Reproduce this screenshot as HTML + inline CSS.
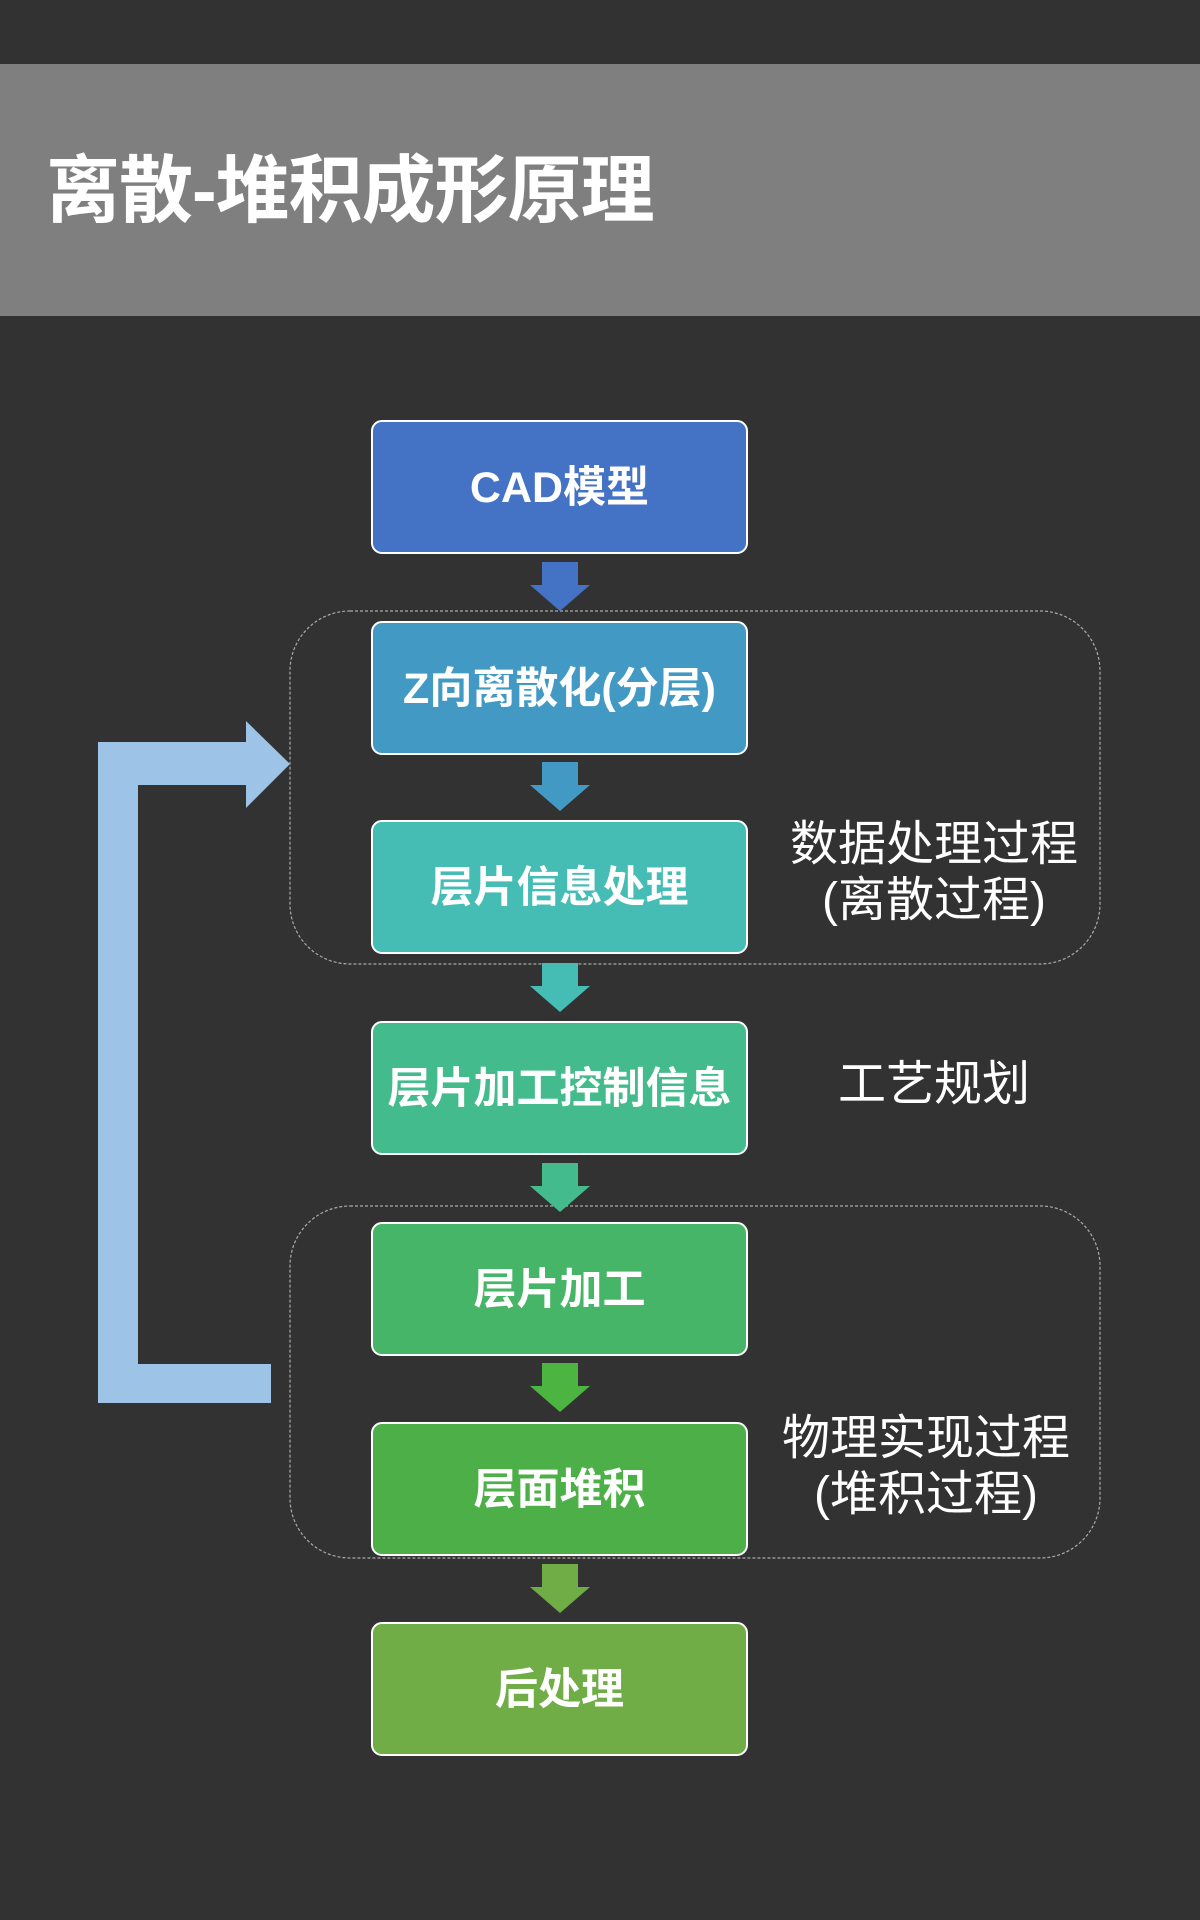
<!DOCTYPE html>
<html><head><meta charset="utf-8"><style>
body{margin:0;width:1200px;height:1920px;background:#323232;position:relative;overflow:hidden;font-family:"Liberation Sans","Noto Sans CJK SC",sans-serif}
.band{position:absolute;left:0;top:64px;width:1200px;height:252px;background:#7f7f7f}
.title{position:absolute;left:46px;top:146px;font-size:74px;font-weight:bold;color:#fff;line-height:90px;letter-spacing:-1px}
.box{position:absolute;left:371px;width:373px;height:130px;border:2px solid #fff;border-radius:11px;color:#fff;font-weight:bold;font-size:43px;display:flex;align-items:center;justify-content:center;box-sizing:content-box}
.box span{position:relative;top:-3px}
.lbl{position:absolute;color:#fff;font-size:48px;text-align:center;line-height:56px;width:340px}
svg{position:absolute;left:0;top:0}
</style></head><body>
<div class="band"></div>
<div class="title">离散-堆积成形原理</div>
<svg width="1200" height="1920">
<rect x="290" y="611" width="810" height="353" rx="60" fill="none" stroke="#aaa" stroke-width="1.2" stroke-dasharray="3,2"/>
<rect x="290" y="1206" width="810" height="352" rx="60" fill="none" stroke="#aaa" stroke-width="1.2" stroke-dasharray="3,2"/>
<g>
<polygon points="542,562 578,562 578,585 590,585 560,611 530,585 542,585" fill="#4472c4"/>
<polygon points="542,762 578,762 578,785 590,785 560,811 530,785 542,785" fill="#4299c4"/>
<polygon points="542,963 578,963 578,986 590,986 560,1012 530,986 542,986" fill="#45bdb5"/>
<polygon points="542,1163 578,1163 578,1186 590,1186 560,1212 530,1186 542,1186" fill="#44bb8c"/>
<polygon points="542,1363 578,1363 578,1386 590,1386 560,1412 530,1386 542,1386" fill="#4cb541"/>
<polygon points="542,1564 578,1564 578,1587 590,1587 560,1613 530,1587 542,1587" fill="#70ad47"/>
</g>
<polygon points="98,742 246,742 246,721 290,764 246,808 246,785 138,785 138,1364 271,1364 271,1403 98,1403" fill="#9dc3e6"/>
</svg>
<div class="box" style="top:420px;background:#4472c4"><span>CAD模型</span></div>
<div class="box" style="top:621px;background:#4299c4"><span>Z向离散化(分层)</span></div>
<div class="box" style="top:820px;background:#45bdb5"><span>层片信息处理</span></div>
<div class="box" style="top:1021px;background:#44bb8c"><span>层片加工控制信息</span></div>
<div class="box" style="top:1222px;background:#47b567"><span>层片加工</span></div>
<div class="box" style="top:1422px;background:#4daf47"><span>层面堆积</span></div>
<div class="box" style="top:1622px;background:#70ad47"><span>后处理</span></div>
<div class="lbl" style="left:764px;top:817px">数据处理过程<br>(离散过程)</div>
<div class="lbl" style="left:764px;top:1057px">工艺规划</div>
<div class="lbl" style="left:756px;top:1411px">物理实现过程<br>(堆积过程)</div>
</body></html>
